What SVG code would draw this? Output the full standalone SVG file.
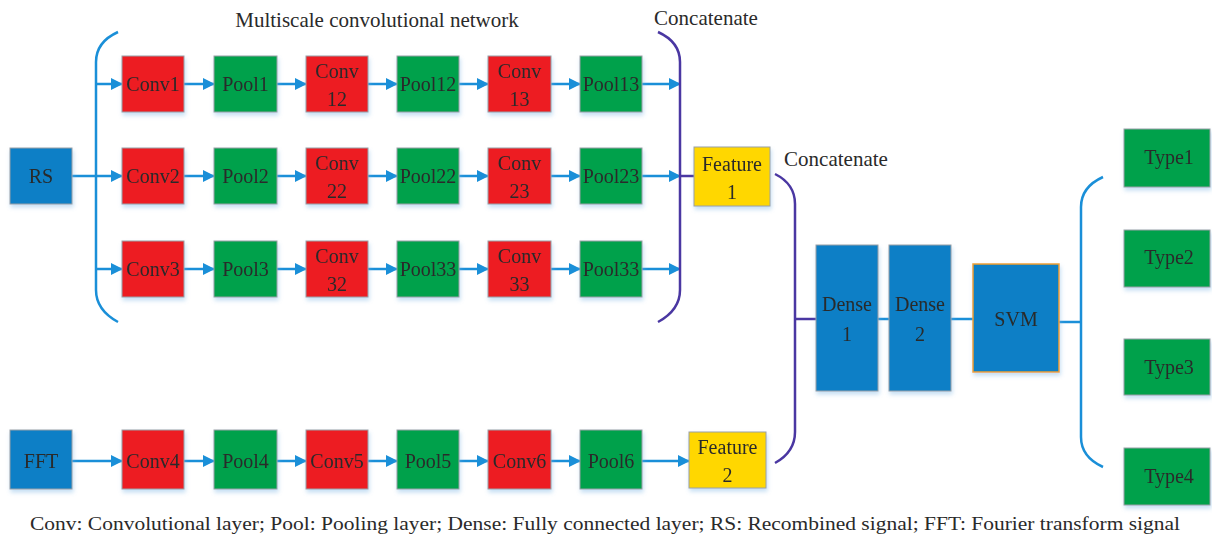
<svg xmlns="http://www.w3.org/2000/svg" width="1212" height="538" viewBox="0 0 1212 538" font-family="'Liberation Serif', 'DejaVu Serif', serif">
<style>
text{font-family:'Liberation Serif','DejaVu Serif',serif;fill:#2a2a2a}
.t{font-size:20px;text-anchor:middle}
.lbl{font-size:21px}
.cap{font-size:19px}
.box{stroke:#9aa0a6;stroke-width:1}
.red{fill:#ed1c24}.green{fill:#00a14b}.blue{fill:#0a7fc6}.yellow{fill:#ffd700}
.ar{stroke:#1a8fd8;stroke-width:2.5;fill:none;marker-end:url(#ah)}
.ln{stroke:#1a8fd8;stroke-width:2.5;fill:none}
.pl{stroke:#4a37a2;stroke-width:2.5;fill:none}
</style>
<defs>
<marker id="ah" markerWidth="12" markerHeight="12" viewBox="0 0 12 12" refX="11" refY="6" orient="auto" markerUnits="userSpaceOnUse">
<path d="M0,0 L12,6 L0,12 z" fill="#1a8fd8"/>
</marker>
<filter id="sh" x="-10%" y="-10%" width="130%" height="130%">
<feDropShadow dx="1" dy="3" stdDeviation="2" flood-color="#7fb6e6" flood-opacity="0.45"/>
</filter>
</defs>
<rect width="1212" height="538" fill="#fff"/>

<text class="lbl" x="377" y="27" text-anchor="middle">Multiscale convolutional network</text>
<text class="lbl" x="706" y="25" text-anchor="middle">Concatenate</text>
<text class="lbl" x="836" y="166" text-anchor="middle">Concatenate</text>

<g id="connectors">
<path class="ln" d="M118,32 Q96,42 96,62 L96,290 Q96,310 118,322"/>
<path class="ar" d="M72,176 L122,176"/>
<path class="ar" d="M96,84 L122,84"/>
<path class="ar" d="M96,269 L122,269"/>
<path class="ar" d="M184,84 L214,84"/><path class="ar" d="M277,84 L306,84"/><path class="ar" d="M368,84 L397,84"/><path class="ar" d="M459,84 L488,84"/><path class="ar" d="M551,84 L580,84"/><path class="ar" d="M642,84 L680,84"/>
<path class="ar" d="M184,176 L214,176"/><path class="ar" d="M277,176 L306,176"/><path class="ar" d="M368,176 L397,176"/><path class="ar" d="M459,176 L488,176"/><path class="ar" d="M551,176 L580,176"/><path class="ar" d="M642,176 L680,176"/>
<path class="ar" d="M184,269 L214,269"/><path class="ar" d="M277,269 L306,269"/><path class="ar" d="M368,269 L397,269"/><path class="ar" d="M459,269 L488,269"/><path class="ar" d="M551,269 L580,269"/><path class="ar" d="M642,269 L680,269"/>
<path class="pl" d="M658,32 Q680,42 680,62 L680,290 Q680,310 658,322"/>
<path class="pl" d="M680,176 L694,176"/>
<path class="ar" d="M72,461 L122,461"/><path class="ar" d="M184,461 L214,461"/><path class="ar" d="M277,461 L306,461"/><path class="ar" d="M368,461 L397,461"/><path class="ar" d="M459,461 L488,461"/><path class="ar" d="M551,461 L580,461"/><path class="ar" d="M642,461 L689,461"/>
<path class="pl" d="M775,174 Q795,184 795,204 L795,432 Q795,452 775,463"/>
<path class="pl" d="M795,319 L816,319"/>
<path class="ln" d="M878,319 L889,319"/>
<path class="ln" d="M951,319 L973,319"/>
<path class="ln" d="M1059,322 L1081,322"/>
<path class="ln" d="M1103,177 Q1081,187 1081,207 L1081,437 Q1081,457 1103,467"/>
</g>

<g id="RS" filter="url(#sh)"><rect class="box blue" x="10" y="148" width="62" height="56"/><text class="t" x="41" y="183">RS</text></g>

<g id="Conv1" filter="url(#sh)"><rect class="box red" x="122" y="56" width="62" height="56"/><text class="t" x="153" y="91">Conv1</text></g>
<g id="Pool1" filter="url(#sh)"><rect class="box green" x="214" y="56" width="63" height="56"/><text class="t" x="245.5" y="91">Pool1</text></g>
<g id="Conv12" filter="url(#sh)"><rect class="box red" x="306" y="56" width="62" height="56"/><text class="t" x="337" y="78">Conv</text><text class="t" x="337" y="106">12</text></g>
<g id="Pool12" filter="url(#sh)"><rect class="box green" x="397" y="56" width="62" height="56"/><text class="t" x="428" y="91">Pool12</text></g>
<g id="Conv13" filter="url(#sh)"><rect class="box red" x="488" y="56" width="63" height="56"/><text class="t" x="519.5" y="78">Conv</text><text class="t" x="519.5" y="106">13</text></g>
<g id="Pool13" filter="url(#sh)"><rect class="box green" x="580" y="56" width="62" height="56"/><text class="t" x="611" y="91">Pool13</text></g>

<g id="Conv2" filter="url(#sh)"><rect class="box red" x="122" y="148" width="62" height="56"/><text class="t" x="153" y="183">Conv2</text></g>
<g id="Pool2" filter="url(#sh)"><rect class="box green" x="214" y="148" width="63" height="56"/><text class="t" x="245.5" y="183">Pool2</text></g>
<g id="Conv22" filter="url(#sh)"><rect class="box red" x="306" y="148" width="62" height="56"/><text class="t" x="337" y="170">Conv</text><text class="t" x="337" y="198">22</text></g>
<g id="Pool22" filter="url(#sh)"><rect class="box green" x="397" y="148" width="62" height="56"/><text class="t" x="428" y="183">Pool22</text></g>
<g id="Conv23" filter="url(#sh)"><rect class="box red" x="488" y="148" width="63" height="56"/><text class="t" x="519.5" y="170">Conv</text><text class="t" x="519.5" y="198">23</text></g>
<g id="Pool23" filter="url(#sh)"><rect class="box green" x="580" y="148" width="62" height="56"/><text class="t" x="611" y="183">Pool23</text></g>

<g id="Conv3" filter="url(#sh)"><rect class="box red" x="122" y="241" width="62" height="56"/><text class="t" x="153" y="276">Conv3</text></g>
<g id="Pool3" filter="url(#sh)"><rect class="box green" x="214" y="241" width="63" height="56"/><text class="t" x="245.5" y="276">Pool3</text></g>
<g id="Conv32" filter="url(#sh)"><rect class="box red" x="306" y="241" width="62" height="56"/><text class="t" x="337" y="263">Conv</text><text class="t" x="337" y="291">32</text></g>
<g id="Pool33a" filter="url(#sh)"><rect class="box green" x="397" y="241" width="62" height="56"/><text class="t" x="428" y="276">Pool33</text></g>
<g id="Conv33" filter="url(#sh)"><rect class="box red" x="488" y="241" width="63" height="56"/><text class="t" x="519.5" y="263">Conv</text><text class="t" x="519.5" y="291">33</text></g>
<g id="Pool33b" filter="url(#sh)"><rect class="box green" x="580" y="241" width="62" height="56"/><text class="t" x="611" y="276">Pool33</text></g>

<g id="Feature1" filter="url(#sh)"><rect class="box yellow" x="694" y="147" width="76" height="59"/><text class="t" x="732" y="171">Feature</text><text class="t" x="732" y="199">1</text></g>

<g id="FFT" filter="url(#sh)"><rect class="box blue" x="10" y="430" width="62" height="59"/><text class="t" x="41" y="468">FFT</text></g>
<g id="Conv4" filter="url(#sh)"><rect class="box red" x="122" y="430" width="62" height="59"/><text class="t" x="153" y="468">Conv4</text></g>
<g id="Pool4" filter="url(#sh)"><rect class="box green" x="214" y="430" width="63" height="59"/><text class="t" x="245.5" y="468">Pool4</text></g>
<g id="Conv5" filter="url(#sh)"><rect class="box red" x="306" y="430" width="62" height="59"/><text class="t" x="337" y="468">Conv5</text></g>
<g id="Pool5" filter="url(#sh)"><rect class="box green" x="397" y="430" width="62" height="59"/><text class="t" x="428" y="468">Pool5</text></g>
<g id="Conv6" filter="url(#sh)"><rect class="box red" x="488" y="430" width="63" height="59"/><text class="t" x="519.5" y="468">Conv6</text></g>
<g id="Pool6" filter="url(#sh)"><rect class="box green" x="580" y="430" width="62" height="59"/><text class="t" x="611" y="468">Pool6</text></g>
<g id="Feature2" filter="url(#sh)"><rect class="box yellow" x="689" y="432" width="77" height="56"/><text class="t" x="727.5" y="454">Feature</text><text class="t" x="727.5" y="482">2</text></g>

<g id="Dense1" filter="url(#sh)"><rect class="box blue" x="816" y="245" width="62" height="146"/><text class="t" x="847" y="311">Dense</text><text class="t" x="847" y="341">1</text></g>
<g id="Dense2" filter="url(#sh)"><rect class="box blue" x="889" y="245" width="62" height="146"/><text class="t" x="920" y="311">Dense</text><text class="t" x="920" y="341">2</text></g>
<g id="SVM" filter="url(#sh)"><rect x="973" y="264" width="86" height="108" fill="#0a7fc6" stroke="#f0a030" stroke-width="1.5"/><text class="t" x="1016" y="326">SVM</text></g>

<g id="Type1" filter="url(#sh)"><rect class="box green" x="1124" y="129" width="86" height="58"/><text class="t" x="1169" y="164">Type1</text></g>
<g id="Type2" filter="url(#sh)"><rect class="box green" x="1124" y="230" width="86" height="57"/><text class="t" x="1169" y="264">Type2</text></g>
<g id="Type3" filter="url(#sh)"><rect class="box green" x="1124" y="339" width="86" height="56"/><text class="t" x="1169" y="374">Type3</text></g>
<g id="Type4" filter="url(#sh)"><rect class="box green" x="1124" y="448" width="86" height="57"/><text class="t" x="1169" y="483">Type4</text></g>

<text class="cap" x="30" y="530" textLength="1150" lengthAdjust="spacingAndGlyphs">Conv: Convolutional layer; Pool: Pooling layer; Dense: Fully connected layer; RS: Recombined signal; FFT: Fourier transform signal</text>
</svg>
